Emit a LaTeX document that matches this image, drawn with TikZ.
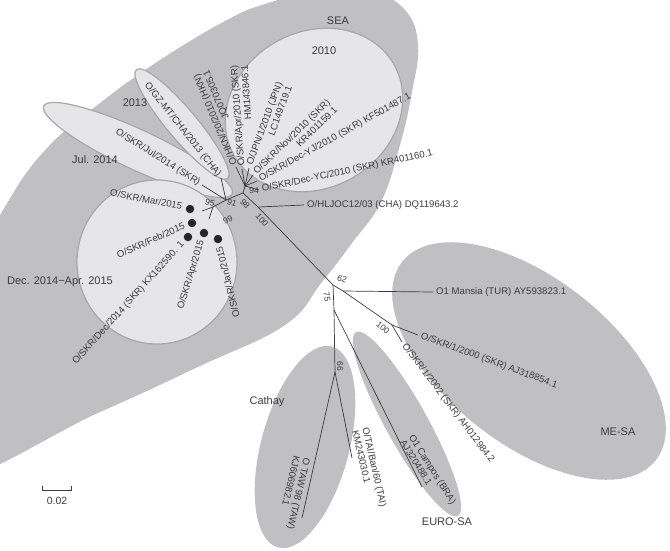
\documentclass[tikz,border=0pt]{standalone}
\usepackage{fontspec}
\setmainfont{Liberation Sans}
\definecolor{ink}{RGB}{60,60,60}
\definecolor{grpdark}{RGB}{192,192,194}
\definecolor{grplight}{RGB}{230,230,232}
\definecolor{grpedge}{RGB}{168,168,170}

\tikzset{
    edgeline/.style={draw=ink, line width=0.7pt},
    tiplabel/.style={font=\fontsize{9.6}{10.5}\selectfont, text=ink,
        inner xsep=3pt, inner ysep=0.5pt, text height=7pt, text depth=2pt},
    bootval/.style={font=\fontsize{8.5}{9}\selectfont, text=ink, inner sep=0pt},
    grouplabel/.style={font=\fontsize{11}{12}\selectfont, text=ink, inner sep=0pt},
    clade/.style={fill=grpdark},
    subclade/.style={fill=grplight, draw=grpedge, line width=1.2pt},
    marker/.style={circle, fill=black!85, inner sep=0pt, minimum size=8.5pt}
}

\begin{document}
\begin{tikzpicture}[x=1pt, y=-1pt]
    \useasboundingbox (0,0) rectangle (670,550);
    \clip (0,0) rectangle (670,550);

    % Clades
    \fill [clade] plot [smooth cycle, tension=0.7] coordinates {
        (-60,480) (100,412) (200,366) (285,325) (322,282) (352,243)
        (381,202) (400,145) (412,92) (418,45) (405,10) (370,-8)
        (315,-8) (265,4) (227,20) (160,60) (100,103) (50,145)
        (12,195) (-20,260) (-50,360)};
    \fill [clade, rotate around={-38:(529,361)}] (529,361) ellipse [x radius=161, y radius=83];
    \fill [clade, rotate around={75:(305,447)}] (305,447) ellipse [x radius=104, y radius=44];
    \fill [clade, rotate around={-61:(407,424)}] (407,424) ellipse [x radius=105, y radius=21];

    % Sub-clades of SEA
    \filldraw [subclade, rotate around={-25:(138,150)}] (138,150) ellipse [x radius=104, y radius=20];
    \filldraw [subclade, rotate around={-50:(182,124)}] (182,124) ellipse [x radius=71, y radius=15];
    \filldraw [subclade, rotate around={30:(314,110)}] (314,110) ellipse [x radius=92, y radius=78];
    \filldraw [subclade] (157,262) ellipse [x radius=80, y radius=82];

    % Group names
    \node [grouplabel] (sea) at (338,21) {SEA};
    \node [grouplabel] (g2010) at (324,51) {2010};
    \node [grouplabel] (g2013) at (135,103) {2013};
    \node [grouplabel] (gjul) at (95,160) {Jul. 2014};
    \node [grouplabel] (gdec) at (60,282) {Dec. 2014−Apr. 2015};
    \node [grouplabel] (cathay) at (267,402) {Cathay};
    \node [grouplabel] (mesa) at (618,432) {ME-SA};
    \node [grouplabel] (eurosa) at (447,522) {EURO-SA};

    % Inner nodes
    \coordinate (n94) at (245,186);
    \coordinate (n98) at (243,193);
    \coordinate (n91) at (226,200);
    \coordinate (n95) at (213,207);
    \coordinate (n100) at (258,207);
    \coordinate (n62) at (333,285);
    \coordinate (nmansia) at (343,291);
    \coordinate (nmesa) at (392,325);
    \coordinate (n75) at (334,310);
    \coordinate (n66) at (335,372);

    % Tips
    \coordinate (hkn) at (236,167);
    \coordinate (apr10) at (242,169);
    \coordinate (jpn) at (249,168);
    \coordinate (nov) at (253,175);
    \coordinate (decyj) at (257,181);
    \coordinate (decyc) at (259,190);
    \coordinate (jul) at (202,185);
    \coordinate (gz) at (221,178);
    \coordinate (c1) at (202,211);
    \coordinate (c2) at (209,219);
    \coordinate (hlj) at (304,205);
    \coordinate (mansia) at (433,292);
    \coordinate (skr2000) at (418,335);
    \coordinate (skr2002) at (402,342);
    \coordinate (campos) at (422,487);
    \coordinate (taw) at (302,518);
    \coordinate (tai) at (352,458);

    % Branches
    \draw [edgeline] (n94) -- (hkn);
    \draw [edgeline] (n94) -- (apr10);
    \draw [edgeline] (n94) -- (jpn);
    \draw [edgeline] (n94) -- (nov);
    \draw [edgeline] (n94) -- (decyj);
    \draw [edgeline] (n94) -- (decyc);
    \draw [edgeline] (n94) -- (n98);
    \draw [edgeline] (n98) -- (n91);
    \draw [edgeline] (n91) -- (jul);
    \draw [edgeline] (n91) -- (gz);
    \draw [edgeline] (n91) -- (n95);
    \draw [edgeline] (n95) -- (c1);
    \draw [edgeline] (n95) -- (c2);
    \draw [edgeline] (n98) -- (n100);
    \draw [edgeline] (n100) -- (hlj);
    \draw [edgeline] (n100) -- (n62);
    \draw [edgeline] (n62) -- (nmansia);
    \draw [edgeline] (nmansia) -- (mansia);
    \draw [edgeline] (nmansia) -- (nmesa);
    \draw [edgeline] (nmesa) -- (skr2000);
    \draw [edgeline] (nmesa) -- (skr2002);
    \draw [edgeline] (n62) -- (n75);
    \draw [edgeline] (n75) -- (campos);
    \draw [edgeline] (n75) -- (n66);
    \draw [edgeline] (n66) -- (taw);
    \draw [edgeline] (n66) -- (tai);

    % 2010
    \node [tiplabel, rotate=113, anchor=west] (hknA) at (hkn) {O/HKN/20/2010 (HKN)};
    \node [tiplabel, rotate=113, anchor=north east] (hknB) at (hknA.south east) {JQ070305.1};
    \node [tiplabel, rotate=94, anchor=west] (aprA) at (apr10) {O/SKR/Apr/2010 (SKR)};
    \node [tiplabel, rotate=94, anchor=north east] (aprB) at (aprA.south east) {HM143846.1};
    \node [tiplabel, rotate=70, anchor=west] (jpnA) at (jpn) {O/JPN/1/2010 (JPN)};
    \node [tiplabel, rotate=70, anchor=north east] (jpnB) at (jpnA.south east) {LC149719.1};
    \node [tiplabel, rotate=44, anchor=west] (novA) at (nov) {O/SKR/Nov/2010 (SKR)};
    \node [tiplabel, rotate=44, anchor=north east] (novB) at (novA.south east) {KR401159.1};
    \node [tiplabel, rotate=29, anchor=west] (decyjL) at (decyj) {O/SKR/Dec-YJ/2010 (SKR) KF501487.1};
    \node [tiplabel, rotate=12, anchor=west] (decycL) at (decyc) {O/SKR/Dec-YC/2010 (SKR) KR401160.1};

    % 2013 and Jul. 2014
    \node [tiplabel, rotate=-51.5, anchor=east] (gzL) at (gz) {O/GZ-MT/CHA/2013 (CHA)};
    \node [tiplabel, rotate=-32, anchor=east] (julL) at (jul) {O/SKR/Jul/2014 (SKR)};

    % Dec. 2014 - Apr. 2015
    \node [marker] (mar) at (190,209) {};
    \node [marker] (feb) at (192,223) {};
    \node [marker] (dec) at (188,237) {};
    \node [marker] (apr15) at (204,233) {};
    \node [marker] (jan) at (218,239) {};
    \node [tiplabel, rotate=-11, anchor=east, inner xsep=8pt] (marL) at (mar) {O/SKR/Mar/2015};
    \node [tiplabel, rotate=24, anchor=east, inner xsep=8pt] (febL) at (feb) {O/SKR/Feb/2015};
    \node [tiplabel, rotate=48, anchor=east, inner xsep=8pt] (decL) at (dec) {O/SKR/Dec/2014 (SKR) KX162590. 1};
    \node [tiplabel, rotate=73, anchor=east, inner xsep=8pt] (apr15L) at (apr15) {O/SKR/Apr/2015};
    \node [tiplabel, rotate=104, anchor=east, inner xsep=8pt] (janL) at (jan) {O/SKR/Jan/2015};

    % Other tips
    \node [tiplabel, anchor=west] (hljL) at (hlj) {O/HLJOC12/03 (CHA) DQ119643.2};
    \node [tiplabel, anchor=west] (mansiaL) at (mansia) {O1 Mansia (TUR) AY593823.1};
    \node [tiplabel, rotate=-20, anchor=west] (skr2000L) at (skr2000) {O/SKR/1/2000 (SKR) AJ318854.1};
    \node [tiplabel, rotate=-53, anchor=west] (skr2002L) at (skr2002) {O/SKR/1/2002 (SKR) AH012984.2};
    \node [tiplabel, rotate=-58, anchor=west] (camposA) at (409,433) {O1 Campos (BRA)};
    \node [tiplabel, rotate=-58, anchor=north west] (camposB) at (camposA.south west) {AJ320488.1};
    \node [tiplabel, rotate=-77, anchor=west] (taiA) at (364,425) {O/TAI/Ban/60 (TAI)};
    \node [tiplabel, rotate=-77, anchor=north west] (taiB) at (taiA.south west) {KM243030.1};
    \node [tiplabel, rotate=-103, anchor=west] (tawA) at (307,455) {O TAW 98 (TAW)};
    \node [tiplabel, rotate=-103, anchor=north west] (tawB) at (tawA.south west) {KJ606982.1};

    % Bootstrap values
    \node [bootval] at (254,191) {94};
    \node [bootval, rotate=-15] at (210,203) {95};
    \node [bootval, rotate=-15] at (232,203) {91};
    \node [bootval, rotate=-50] at (245,204) {98};
    \node [bootval, rotate=25] at (228,220) {99};
    \node [bootval, rotate=-50] at (262,220) {100};
    \node [bootval, rotate=-20] at (342,279) {62};
    \node [bootval, rotate=-80] at (327,297) {75};
    \node [bootval, rotate=-90] at (340,366) {66};
    \node [bootval, rotate=-40] at (383,328) {100};

    % Scale bar
    \coordinate (sbL) at (42,490);
    \coordinate (sbR) at (71,490);
    \draw [edgeline] (42,486) -- (sbL) -- (sbR) -- (71,486);
    \node [grouplabel, font=\fontsize{10.5}{11}\selectfont] (sbT) at (57,501) {0.02};
\end{tikzpicture}
\end{document}
